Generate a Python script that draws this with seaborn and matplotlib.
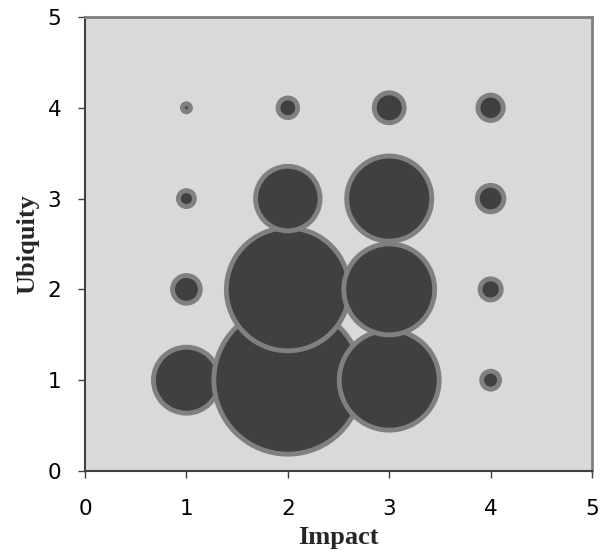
import matplotlib
matplotlib.use("Agg")
import matplotlib.pyplot as plt
import seaborn as sns
import pandas as pd

impact = [1, 2, 3, 4, 1, 2, 3, 4, 1, 2, 3, 4, 1, 2, 3, 4]
ubiquity = [1, 1, 1, 1, 2, 2, 2, 2, 3, 3, 3, 3, 4, 4, 4, 4]
counts = [68, 342, 156, 5, 12, 236, 129, 7, 4, 65, 113, 11, 1, 6, 14, 10]
ticks = [0, 1, 2, 3, 4, 5]

df = pd.DataFrame({"Impact": impact, "Ubiquity": ubiquity, "Count": counts})

sns.set_theme(style="white")
plt.rcParams["font.family"] = ["DejaVu Sans"]

DPI = 100
fig = plt.figure(figsize=(6.0, 5.55), dpi=DPI)
ax = fig.add_axes([0.1417, 0.1514, 0.845, 0.818])
ax.set_facecolor("#D9D9D9")

k = 33.2  # points^2 per count unit
vmin, vmax = min(counts), max(counts)
sns.scatterplot(data=df, x="Impact", y="Ubiquity", size="Count",
                sizes=(vmin * k, vmax * k), size_norm=(vmin, vmax),
                color="#404040", edgecolor="#808080", linewidth=3.5,
                legend=False, ax=ax, zorder=3, alpha=1)

ax.set_xlim(0, 5)
ax.set_ylim(0, 5)
ax.set_xticks(ticks)
ax.set_yticks(ticks)
ax.set_xticklabels([str(t) for t in ticks])
ax.set_yticklabels([str(t) for t in ticks])
ax.tick_params(axis="both", which="major", direction="out", length=5, width=1,
               color="#404040", labelsize=15.5, labelcolor="black",
               bottom=True, left=True)
ax.tick_params(axis="x", pad=15)
ax.tick_params(axis="y", pad=12)

for side in ["left", "bottom"]:
    ax.spines[side].set_color("#404040")
    ax.spines[side].set_linewidth(1.5)
for side in ["top", "right"]:
    ax.spines[side].set_color("#808080")
    ax.spines[side].set_linewidth(2)
    ax.spines[side].set_visible(True)

ax.set_xlabel("Impact", fontsize=19, fontweight="bold",
              family="Liberation Serif", labelpad=5)
ax.set_ylabel("Ubiquity", fontsize=19, fontweight="bold",
              family="Liberation Serif", labelpad=6)
ax.grid(False)

fig.savefig("out.png", dpi=DPI)
